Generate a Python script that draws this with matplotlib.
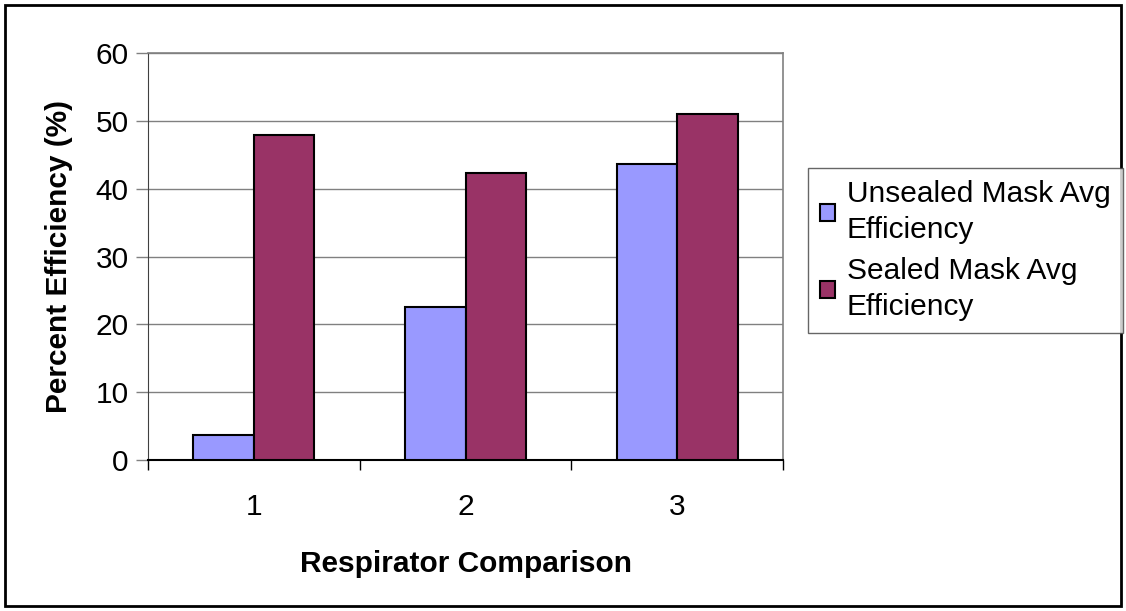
import numpy as np
import matplotlib
matplotlib.use("Agg")
import matplotlib.pyplot as plt
from matplotlib.patches import Rectangle

# Data
categories = ["1", "2", "3"]
unsealed = [3.7, 22.5, 43.7]
sealed = [47.9, 42.3, 51.0]
series_names = ["Unsealed Mask Avg\nEfficiency", "Sealed Mask Avg\nEfficiency"]
y_ticks = [0, 10, 20, 30, 40, 50, 60]

plt.rcParams['font.family'] = ['Liberation Sans', 'DejaVu Sans']
FS = 21.5

fig = plt.figure(figsize=(11.26, 6.11), dpi=100)
ax = fig.add_axes([148 / 1126, 1 - 460 / 611, (783 - 148) / 1126, (460 - 53) / 611])

x = np.arange(1, len(categories) + 1)
w = 1 / 3.5  # Excel style gap width 150%
b1 = ax.bar(x - w / 2, unsealed, w, color="#9999FF", edgecolor="black", linewidth=1.5,
            label=series_names[0], zorder=3)
b2 = ax.bar(x + w / 2, sealed, w, color="#993366", edgecolor="black", linewidth=1.5,
            label=series_names[1], zorder=3)

ax.set_xlim(0.5, len(categories) + 0.5)
ax.set_ylim(0, 60)
ax.set_yticks(y_ticks)
ax.set_xticks(x)
ax.set_xticklabels(categories)
ax.set_xticks(np.arange(0.5, len(categories) + 1), minor=True)
ax.tick_params(axis='x', which='major', length=0, pad=24, labelsize=FS)
ax.tick_params(axis='x', which='minor', length=7, width=1, color='black')
ax.tick_params(axis='y', length=9, width=1, color='#808080', labelsize=FS, pad=5)

ax.yaxis.grid(True, color='#808080', linewidth=1, zorder=0)
for s in ['top', 'right']:
    ax.spines[s].set_color('#808080')
    ax.spines[s].set_linewidth(1.2)
ax.spines['left'].set_color('#404040')
ax.spines['bottom'].set_color('black')
ax.spines['bottom'].set_linewidth(1.5)

ax.set_xlabel("Respirator Comparison", fontsize=FS, fontweight='bold', labelpad=21)
ax.set_ylabel("Percent Efficiency (%)", fontsize=FS, fontweight='bold', labelpad=16)

leg = fig.legend(handles=[b1, b2], loc='upper left',
                 bbox_to_anchor=(808 / 1126, 1 - 168 / 611), fontsize=FS,
                 frameon=True, fancybox=False, edgecolor='#404040',
                 handlelength=0.5, handleheight=0.5, handletextpad=0.4,
                 labelspacing=0.45, borderpad=0.4, borderaxespad=0)
leg.get_frame().set_linewidth(1)
for t in leg.get_texts():
    t.set_linespacing(1.35)

# outer chart border
fig.patches.append(Rectangle((5 / 1126, 5 / 611), 1 - 10 / 1126, 1 - 10 / 611,
                             transform=fig.transFigure, fill=False,
                             edgecolor='black', linewidth=2))

fig.savefig("out.png", dpi=100)
